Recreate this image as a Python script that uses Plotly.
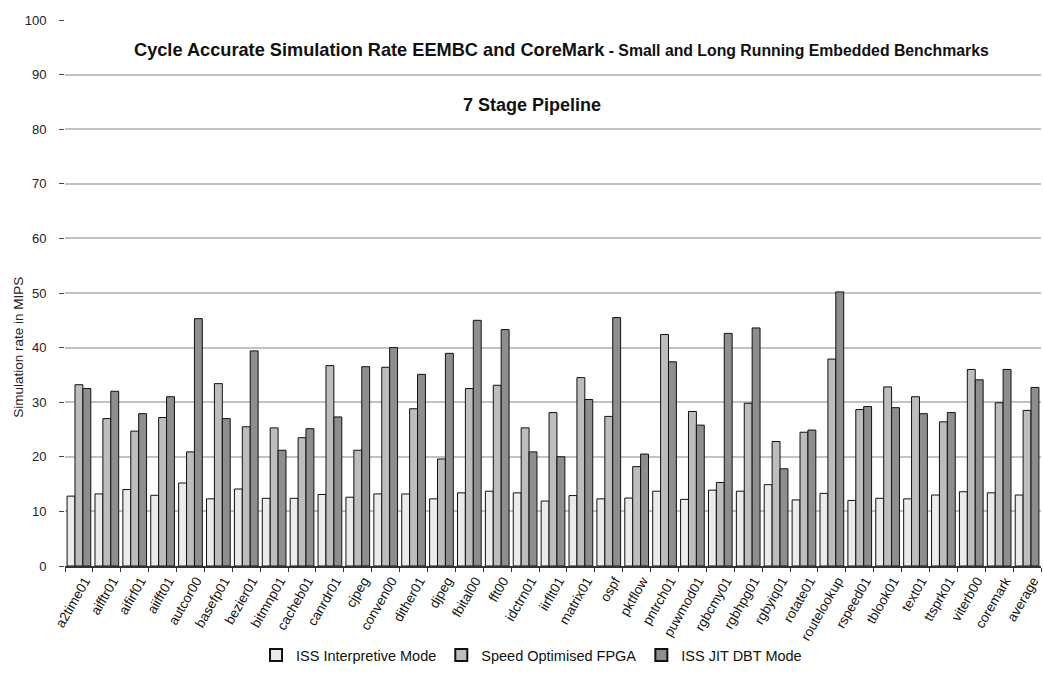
import plotly.graph_objects as go

categories = ["a2time01", "aifftr01", "aifirf01", "aiifft01", "autcor00", "basefp01", "bezier01",
              "bitmnp01", "cacheb01", "canrdr01", "cjpeg", "conven00", "dither01", "djpeg",
              "fbital00", "fft00", "idctrn01", "iirflt01", "matrix01", "ospf", "pktflow",
              "pntrch01", "puwmod01", "rgbcmy01", "rgbhpg01", "rgbyiq01", "rotate01", "routelookup",
              "rspeed01", "tblook01", "text01", "ttsprk01", "viterb00", "coremark", "average"]

iss_interpretive = [12.8, 13.2, 14.0, 12.95, 15.2, 12.3, 14.1,
                    12.4, 12.4, 13.1, 12.6, 13.2, 13.2, 12.3,
                    13.4, 13.7, 13.4, 11.9, 12.9, 12.3, 12.45,
                    13.7, 12.2, 13.9, 13.7, 14.9, 12.1, 13.3,
                    12.0, 12.4, 12.3, 13.0, 13.6, 13.4, 13.0]

speed_fpga = [33.2, 27.0, 24.7, 27.2, 20.9, 33.4, 25.5,
              25.3, 23.5, 36.7, 21.2, 36.4, 28.8, 19.6,
              32.5, 33.1, 25.3, 28.1, 34.5, 27.4, 18.2,
              42.4, 28.3, 15.3, 29.8, 22.8, 24.5, 37.9,
              28.65, 32.8, 31.0, 26.4, 36.0, 29.9, 28.5]

iss_jit_dbt = [32.5, 32.0, 27.9, 31.0, 45.3, 27.0, 39.4,
               21.2, 25.15, 27.3, 36.5, 40.0, 35.1, 38.95,
               45.0, 43.3, 20.9, 20.0, 30.5, 45.5, 20.5,
               37.4, 25.8, 42.6, 43.6, 17.8, 24.9, 50.2,
               29.2, 29.0, 27.9, 28.1, 34.1, 36.0, 32.7]

series_names = ["ISS Interpretive Mode", "Speed Optimised FPGA", "ISS JIT DBT Mode"]
series_colors = ["#ebebeb", "#bdbdbd", "#8e8e8e"]

y_ticks = [0, 10, 20, 30, 40, 50, 60, 70, 80, 90, 100]

fig = go.Figure()
for name, vals, col in zip(series_names, [iss_interpretive, speed_fpga, iss_jit_dbt], series_colors):
    fig.add_trace(go.Bar(
        x=categories, y=vals, name=name,
        marker=dict(color=col, line=dict(color="#111111", width=1)),
    ))

FONT = "Liberation Sans, Arial, Helvetica, sans-serif"

fig.update_layout(
    width=1043, height=673,
    margin=dict(l=65, r=2, t=20, b=107, autoexpand=False),
    paper_bgcolor="white", plot_bgcolor="white",
    barmode="group", bargap=0.15, bargroupgap=0.0,
    font=dict(family=FONT, size=12, color="#222222"),
    showlegend=True,
    legend=dict(orientation="h", x=0.478, xanchor="center", y=-0.163, yanchor="middle",
                font=dict(size=14.5, color="#111111"), traceorder="normal",
                itemsizing="constant", itemwidth=30, bgcolor="rgba(0,0,0,0)"),
    xaxis=dict(
        tickangle=-60, tickfont=dict(size=13.5, color="#111111"),
        showline=True, linecolor="#333333", linewidth=1.5,
        ticks="outside", tickson="boundaries", ticklen=4, tickcolor="#333333",
        showgrid=False, automargin=False, range=[-0.5, len(categories) - 0.5],
        ticklabelshift=6,
    ),
    yaxis=dict(
        range=[0, 100], tickvals=y_ticks, tickfont=dict(size=13, color="#222222"),
        showgrid=True, gridcolor="#c2c2c2", gridwidth=1.5,
        ticks="outside", ticklen=5, tickcolor="#444444",
        showline=False, zeroline=False, automargin=False,
        ticklabelstandoff=10,
    ),
)

fig.add_annotation(
    text="Simulation rate in MIPS", xref="paper", yref="paper",
    x=-0.048, y=0.40, xanchor="center", yanchor="middle", textangle=-90,
    showarrow=False, font=dict(size=13.5, color="#222222", family=FONT),
)

fig.add_annotation(
    text="<b>Cycle Accurate Simulation Rate EEMBC and CoreMark</b><b><span style='font-size:15.8px'> - Small and Long Running Embedded Benchmarks</span></b>",
    xref="paper", yref="paper", x=0.509, y=0.945, xanchor="center", yanchor="middle",
    showarrow=False, font=dict(size=18.2, color="#111111", family=FONT),
)

fig.add_annotation(
    text="<b>7 Stage Pipeline</b>",
    xref="paper", yref="paper", x=0.478, y=0.845, xanchor="center", yanchor="middle",
    showarrow=False, font=dict(size=18, color="#111111", family=FONT),
)

fig.write_html("out.html")
